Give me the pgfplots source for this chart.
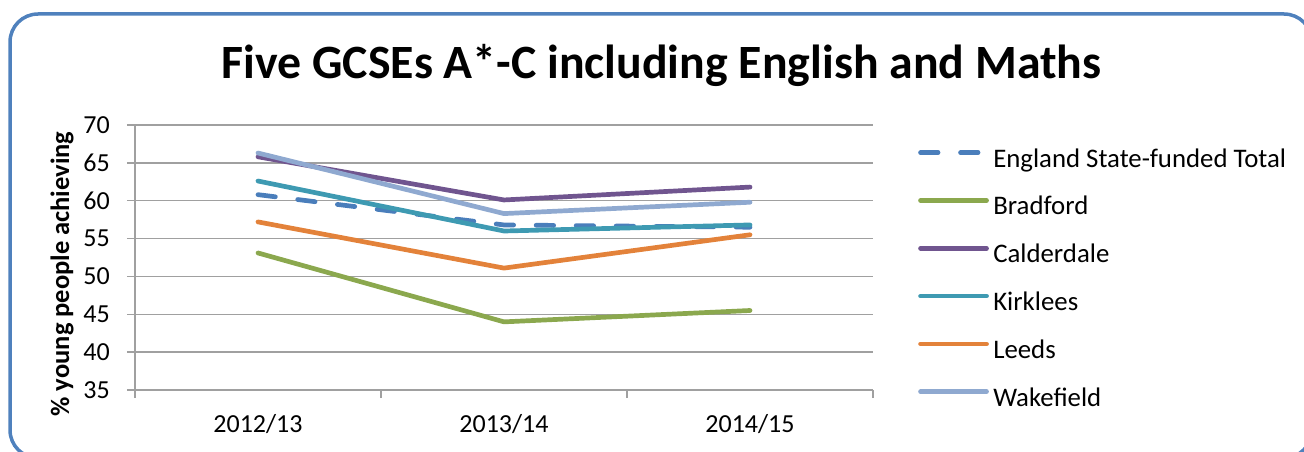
\documentclass[border=0pt]{standalone}
\usepackage{pgfplots}
\pgfplotsset{compat=1.18}
\usepackage{fontspec}
\setmainfont{Carlito}
\definecolor{cBorder}{HTML}{4F81BD}
\definecolor{cEng}{HTML}{4A7EBB}
\definecolor{cBrad}{HTML}{8BA84E}
\definecolor{cCald}{HTML}{70558F}
\definecolor{cKirk}{HTML}{3E9AB2}
\definecolor{cLeeds}{HTML}{E3823A}
\definecolor{cWake}{HTML}{8FA9D0}
\definecolor{cGrid}{HTML}{A0A0A0}
\begin{document}
\begin{tikzpicture}[x=1pt,y=1pt]
\useasboundingbox (0,0) rectangle (1304,451);
\draw[cBorder, line width=3.5pt, rounded corners=28pt] (10,437) rectangle (1312,-7);
\node[anchor=base, inner sep=0pt, font=\fontsize{47.8}{56}\selectfont\bfseries] at (661.5,373) {Five GCSEs A*-C including English and Maths};
\node[rotate=90, inner sep=0pt, font=\fontsize{26.5}{30}\selectfont\bfseries] at (62,177) {\% young people achieving};
\begin{axis}[
  at={(135pt,61pt)}, anchor=south west,
  scale only axis, width=738pt, height=265pt,
  xmin=-0.5, xmax=2.5, ymin=35, ymax=70,
  ytick={35,40,...,70},
  xtick={-0.5,0.5,1.5,2.5}, xticklabels={},
  extra x ticks={0,1,2},
  extra x tick labels={2012/13,2013/14,2014/15},
  extra x tick style={major tick length=0pt},
  axis x line*=bottom, axis y line*=left,
  axis line style={-, cGrid, line width=1.3pt},
  tick style={cGrid, line width=1.3pt},
  tick align=outside, major tick length=8pt,
  ymajorgrids, grid style={cGrid, line width=1.3pt},
  /pgf/number format/assume math mode=true,
  tick label style={font=\fontsize{26}{30}\selectfont, inner sep=0pt},
  yticklabel style={anchor=east, xshift=-17pt},
  xticklabel style={anchor=base, yshift=-42pt},
  clip=false,
  legend cell align=left,
  legend style={at={(1.0569,0.917)}, anchor=north west, draw=none, fill=none,
    font=\fontsize{26.8}{30}\selectfont, row sep=23.8pt, column sep=0pt,
    nodes={inner sep=0pt, text height=18pt, text depth=6pt}},
  legend image code/.code={\path[draw=none] (0pt,0pt) -- (75pt,0pt); \draw[#1] (2.25pt,8.5pt) -- (68.25pt,8.5pt);},
  every axis plot/.append style={line width=4.7pt, line cap=round, line join=round},
]
\addplot[cEng, dash pattern=on 17.5pt off 22.5pt] coordinates {(0,60.8) (1,56.8) (2,56.5)};
\addlegendentry{England State-funded Total}
\addplot[cBrad] coordinates {(0,53.1) (1,44.0) (2,45.5)};
\addlegendentry{Bradford}
\addplot[cCald] coordinates {(0,65.8) (1,60.1) (2,61.8)};
\addlegendentry{Calderdale}
\addplot[cKirk] coordinates {(0,62.6) (1,56.0) (2,56.8)};
\addlegendentry{Kirklees}
\addplot[cLeeds] coordinates {(0,57.2) (1,51.1) (2,55.5)};
\addlegendentry{Leeds}
\addplot[cWake] coordinates {(0,66.3) (1,58.3) (2,59.8)};
\addlegendentry{Wakefield}
\end{axis}
\end{tikzpicture}
\end{document}
